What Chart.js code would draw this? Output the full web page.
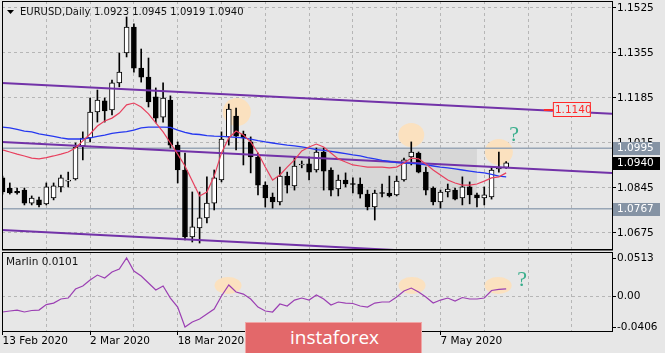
<!DOCTYPE html>
<html>
<head>
<meta charset="utf-8">
<title>EURUSD Daily</title>
<script src="https://cdn.jsdelivr.net/npm/chart.js@4.4.1/dist/chart.umd.min.js"></script>
<style>
  html, body { margin: 0; padding: 0; background: #e7e7e7; }
  #wrap { position: relative; width: 665px; height: 353px; overflow: hidden; background: #e7e7e7; }
  canvas { position: absolute; left: 0; }
  #main { top: 0; }
  #sub { top: 251px; }
  #logo { position: absolute; left: 245px; top: 322px; width: 177px; height: 32px; box-sizing: border-box;
          background: #e3686a; border: 1px solid #f0a6a6; color: #fff; font: 19px 'Open Sans', sans-serif;
          line-height: 28px; padding-left: 44px; }
</style>
</head>
<body>
<div id="wrap">
  <canvas id="main" width="665" height="251"></canvas>
  <canvas id="sub" width="665" height="102"></canvas>
  <div id="logo">instaforex</div>
</div>
<script>
// daily bars 13 Feb 2020 .. 20 May 2020, array index = bar number
const opens = [1.0883,1.0845,1.0832,1.0837,1.0788,1.0800,1.0785,1.0807,1.0849,1.0871,
  1.0879,1.1004,1.1034,1.1132,1.1174,1.1140,1.1242,1.1355,1.1453,1.1298,
  1.1264,1.1189,1.1113,1.1177,1.1007,1.0913,1.0660,1.0694,1.0732,1.0788,
  1.0875,1.1038,1.1117,1.1049,1.1019,1.0962,1.0856,1.0811,1.0792,1.0890,
  1.0853,1.0932,1.0936,1.0913,1.0981,1.0913,1.0841,1.0875,1.0860,1.0860,
  1.0822,1.0773,1.0826,1.0826,1.0819,1.0875,1.0962,1.0977,1.0905,1.0845,
  1.0792,1.0830,1.0837,1.0807,1.0849,1.0819,1.0807,1.0811,1.0917,1.0923];
const highs = [1.0890,1.0864,1.0845,1.0845,1.0815,1.0811,1.0864,1.0864,1.0894,1.0905,
  1.1015,1.1057,1.1185,1.1215,1.1185,1.1253,1.1355,1.1491,1.1465,1.1370,
  1.1336,1.1223,1.1242,1.1193,1.1019,1.0977,1.0830,1.0830,1.0887,1.0913,
  1.1057,1.1162,1.1147,1.1060,1.1038,1.0977,1.0868,1.0826,1.0924,1.0905,
  1.0962,1.0947,1.0962,1.0996,1.0996,1.0921,1.0894,1.0902,1.0883,1.0883,
  1.0837,1.0837,1.0860,1.0890,1.0890,1.0958,1.1019,1.0981,1.0924,1.0849,
  1.0837,1.0860,1.0845,1.0887,1.0868,1.0826,1.0849,1.0921,1.0981,1.0945];
const lows = [1.0822,1.0822,1.0822,1.0781,1.0781,1.0773,1.0781,1.0800,1.0830,1.0849,
  1.0875,1.0951,1.1019,1.1094,1.1094,1.1121,1.1227,1.1340,1.1283,1.1245,
  1.1151,1.1091,1.1094,1.0996,1.0864,1.0649,1.0641,1.0637,1.0713,1.0762,
  1.0868,1.1007,1.0989,1.0932,1.0902,1.0819,1.0773,1.0769,1.0781,1.0826,
  1.0837,1.0921,1.0875,1.0905,1.0837,1.0815,1.0815,1.0849,1.0826,1.0807,
  1.0762,1.0724,1.0811,1.0811,1.0815,1.0871,1.0932,1.0902,1.0819,1.0781,
  1.0769,1.0811,1.0800,1.0781,1.0785,1.0773,1.0781,1.0803,1.0905,1.0919];
const closes = [1.0830,1.0826,1.0826,1.0788,1.0807,1.0781,1.0849,1.0853,1.0883,1.0875,
  1.1000,1.1034,1.1132,1.1177,1.1136,1.1242,1.1283,1.1453,1.1298,1.1264,
  1.1170,1.1109,1.1185,1.1007,1.0913,1.0660,1.0698,1.0732,1.0788,1.0883,
  1.1030,1.1143,1.1041,1.1034,1.0962,1.0856,1.0807,1.0792,1.0890,1.0856,
  1.0928,1.0934,1.0905,1.0981,1.0909,1.0837,1.0875,1.0860,1.0858,1.0822,
  1.0773,1.0826,1.0824,1.0815,1.0871,1.0951,1.0981,1.0905,1.0837,1.0792,
  1.0830,1.0841,1.0803,1.0849,1.0819,1.0807,1.0819,1.0913,1.0924,1.0940];

// moving averages (red = fast, blue = slow)
const maFast = [1.0989,1.0981,1.0973,1.0966,1.0958,1.0955,1.0960,1.0966,1.0973,1.0981,
  1.0996,1.1023,1.1049,1.1079,1.1098,1.1109,1.1128,1.1159,1.1166,1.1151,
  1.1125,1.1091,1.1057,1.1015,1.0973,1.0928,1.0871,1.0815,1.0830,1.0890,
  1.0977,1.1034,1.1060,1.1045,1.1019,1.0977,1.0924,1.0875,1.0894,1.0924,
  1.0951,1.0985,1.1000,1.1011,1.1000,1.0977,1.0955,1.0943,1.0932,1.0928,
  1.0924,1.0924,1.0924,1.0921,1.0924,1.0939,1.0958,1.0955,1.0936,1.0913,
  1.0894,1.0875,1.0864,1.0856,1.0856,1.0860,1.0871,1.0883,1.0887,1.0902];
const maSlow = [1.1075,1.1072,1.1066,1.1060,1.1057,1.1049,1.1045,1.1040,1.1034,1.1030,
  1.1030,1.1030,1.1034,1.1040,1.1045,1.1051,1.1055,1.1058,1.1064,1.1072,
  1.1075,1.1075,1.1075,1.1074,1.1064,1.1055,1.1049,1.1047,1.1043,1.1041,
  1.1040,1.1038,1.1036,1.1034,1.1030,1.1024,1.1019,1.1015,1.1011,1.1007,
  1.1004,1.1000,1.0996,1.0990,1.0987,1.0983,1.0979,1.0975,1.0970,1.0966,
  1.0960,1.0955,1.0949,1.0945,1.0941,1.0939,1.0938,1.0936,1.0932,1.0928,
  1.0924,1.0921,1.0917,1.0913,1.0909,1.0905,1.0902,1.0896,1.0890,1.0887];

// Marlin oscillator
const marlin = [-0.0206,-0.0193,-0.0180,-0.0206,-0.0186,-0.0180,-0.0107,-0.0087,-0.0033,-0.0020,
  0.0100,0.0140,0.0220,0.0286,0.0246,0.0326,0.0366,0.0513,0.0340,0.0273,
  0.0180,0.0087,0.0140,-0.0020,-0.0140,-0.0406,-0.0340,-0.0300,-0.0233,-0.0166,
  0.0007,0.0153,0.0060,0.0033,-0.0033,-0.0140,-0.0193,-0.0206,-0.0100,-0.0126,
  -0.0047,-0.0020,-0.0047,0.0020,-0.0033,-0.0113,-0.0073,-0.0087,-0.0093,-0.0126,
  -0.0140,-0.0087,-0.0073,-0.0073,-0.0007,0.0073,0.0113,0.0060,-0.0007,-0.0087,
  -0.0047,-0.0020,-0.0060,-0.0013,-0.0033,-0.0033,-0.0020,0.0080,0.0095,0.0101];

const priceTicks = [1.0675, 1.0845, 1.1015, 1.1185, 1.1355, 1.1525];
const marlinTicks = [-0.0406, 0, 0.0513];
const gridBars = [6, 12, 18, 24, 30, 36, 42, 48, 54, 60, 66, 72, 78];
const labelBars = [0, 12, 24, 36, 48, 60];
const dateLabels = ['13 Feb 2020', '2 Mar 2020', '18 Mar 2020', '3 Apr 2020', '21 Apr 2020', '7 May 2020'];

// drawn objects: channel, levels, tags
const lineEnds = [-0.07, 83.5];
const channelUpper = [1.1242, 1.1125];
const channelMiddle = [1.1019, 1.0902];
const channelLower = [1.0686, 1.0569];
const levels = [1.0995, 1.0767];
const lastPrice = 1.0940;
const trendTag = 1.1140;
const zoneBars = [36.2, 65.0];

const xMin = -0.07, xMax = 83.5;
const yMin = 1.06145, yMax = 1.15514;
const mMin = -0.0459, mMax = 0.0593;

const idx = opens.map((_, i) => i);
const bodies = idx.map(i => ({x: i, y: [opens[i], closes[i]]}));
const wicks = idx.map(i => ({x: i, y: [lows[i], highs[i]]}));
const bodyFill = idx.map(i => closes[i] >= opens[i] ? '#ffffff' : '#000000');
const seg = ys => lineEnds.map((x, k) => ({x: x, y: ys[k]}));
const series = arr => idx.map(i => ({x: i, y: arr[i]}));

const font = {family: 'DejaVu Sans', size: 10.5};
const gridColor = '#b6b6b6';
const highlight = '#fbe1bf';
const hintColor = '#3aae8c';

function ellipse(ctx, x, y, rx, ry) {
  ctx.beginPath();
  ctx.ellipse(x, y, rx, ry, 0, 0, Math.PI * 2);
  ctx.fill();
}

// keep the plot area exactly where the panel sits: no label overhang padding
const noPad = s => { s.paddingTop = 0; s.paddingBottom = 0; s.paddingLeft = 0; s.paddingRight = 0; };

const mainDecor = {
  id: 'mainDecor',
  beforeDraw(chart) {
    const {ctx, scales: {x, y}} = chart;
    ctx.save();
    ctx.fillStyle = '#d7d7d7';
    const x1 = x.getPixelForValue(zoneBars[0]), x2 = x.getPixelForValue(zoneBars[1]);
    const y1 = y.getPixelForValue(levels[0]), y2 = y.getPixelForValue(levels[1]);
    ctx.fillRect(x1, y1, x2 - x1, y2 - y1);
    ctx.restore();
  },
  beforeDatasetsDraw(chart) {
    const {ctx, scales: {x, y}} = chart;
    ctx.save();
    ctx.fillStyle = highlight;
    ellipse(ctx, x.getPixelForValue(32.1), y.getPixelForValue(1.1132), 14, 14);
    ellipse(ctx, x.getPixelForValue(56.0), y.getPixelForValue(1.1045), 13, 12);
    ellipse(ctx, x.getPixelForValue(68.0), y.getPixelForValue(1.0981), 14, 13);
    ctx.restore();
  },
  afterDraw(chart) {
    const {ctx, chartArea: a, scales: {x, y}} = chart;
    ctx.save();
    // frame
    ctx.strokeStyle = '#000';
    ctx.lineWidth = 1;
    ctx.strokeRect(a.left + 0.5, a.top + 0.5, a.right - a.left, a.bottom - a.top);
    ctx.fillStyle = '#707070';
    ctx.fillRect(a.left, a.bottom + 1, a.right - a.left + 1, 2);

    // price tags on the axis
    ctx.font = '10.5px "DejaVu Sans"';
    ctx.textBaseline = 'middle';
    const tag = (v, bg) => {
      const py = Math.round(y.getPixelForValue(v));
      ctx.fillStyle = bg;
      ctx.fillRect(a.right + 1, py - 6, 47, 13);
      ctx.fillStyle = '#fff';
      ctx.fillText(v.toFixed(4), a.right + 5, py + 0.5);
    };
    tag(levels[0], '#8593a4');
    tag(levels[1], '#8593a4');
    tag(lastPrice, '#000');

    // trendline price tag
    const tx = x.getPixelForValue(75.4), ty = Math.round(y.getPixelForValue(1.1145));
    ctx.fillStyle = '#e7e7e7';
    ctx.fillRect(tx, ty - 7, 38, 15);
    ctx.strokeStyle = '#ff2a2a';
    ctx.strokeRect(tx + 0.5, ty - 6.5, 37, 14);
    ctx.fillStyle = '#ff2a2a';
    ctx.fillRect(tx - 9, ty, 9, 2);
    ctx.fillText(trendTag.toFixed(4), tx + 2, ty + 1);

    // question mark
    ctx.fillStyle = hintColor;
    ctx.font = '22px "Liberation Serif"';
    ctx.textAlign = 'center';
    ctx.fillText('?', x.getPixelForValue(70.1), y.getPixelForValue(1.1045));

    // title
    ctx.textAlign = 'left';
    ctx.fillStyle = '#000';
    ctx.beginPath();
    ctx.moveTo(7, 10); ctx.lineTo(14, 10); ctx.lineTo(10.5, 14); ctx.closePath(); ctx.fill();
    ctx.font = '10px "DejaVu Sans"';
    ctx.fillStyle = '#111';
    ctx.fillText('EURUSD,Daily', 20, 12);
    ctx.fillText([opens[69], highs[69], lows[69], closes[69]].map(v => v.toFixed(4)).join(' '), 94, 12);
    ctx.restore();
  }
};

const subDecor = {
  id: 'subDecor',
  beforeDatasetsDraw(chart) {
    const {ctx, scales: {x, y}} = chart;
    ctx.save();
    ctx.fillStyle = highlight;
    ellipse(ctx, x.getPixelForValue(30.9), y.getPixelForValue(0.0146), 13.5, 8.5);
    ellipse(ctx, x.getPixelForValue(56.1), y.getPixelForValue(0.0146), 13.5, 8.5);
    ellipse(ctx, x.getPixelForValue(67.9), y.getPixelForValue(0.0146), 13.5, 8.5);
    ctx.restore();
  },
  afterDraw(chart) {
    const {ctx, chartArea: a, scales: {x, y}} = chart;
    ctx.save();
    ctx.strokeStyle = '#000';
    ctx.lineWidth = 1;
    ctx.strokeRect(a.left + 0.5, a.top + 0.5, a.right - a.left, a.bottom - a.top);
    ctx.fillStyle = '#111';
    ctx.font = '10.5px "DejaVu Sans"';
    ctx.textBaseline = 'middle';
    ctx.fillText('Marlin ' + marlin[marlin.length - 1].toFixed(4), 6, 11);
    ctx.fillStyle = hintColor;
    ctx.font = '22px "Liberation Serif"';
    ctx.textAlign = 'center';
    ctx.fillText('?', x.getPixelForValue(71.2), y.getPixelForValue(0.022));
    ctx.restore();
  }
};

const lineStyle = (color, width, order) => ({type: 'line', borderColor: color, borderWidth: width,
  pointRadius: 0, fill: false, order: order});

new Chart(document.getElementById('main'), {
  type: 'bar',
  data: {
    datasets: [
      Object.assign(lineStyle('#98a6b6', 1.5, 5), {data: seg([levels[0], levels[0]])}),
      Object.assign(lineStyle('#98a6b6', 1.5, 5), {data: seg([levels[1], levels[1]])}),
      {data: wicks, backgroundColor: '#000', barThickness: 1, grouped: false, order: 2},
      {data: bodies, backgroundColor: bodyFill, borderColor: '#000', borderWidth: 1,
       borderSkipped: false, barThickness: 5, minBarLength: 1, grouped: false, order: 1},
      Object.assign(lineStyle('#7232a8', 2, -1), {data: seg(channelUpper)}),
      Object.assign(lineStyle('#7232a8', 2, -1), {data: seg(channelMiddle)}),
      Object.assign(lineStyle('#7232a8', 2, -1), {data: seg(channelLower)}),
      Object.assign(lineStyle('#2638f0', 1.3, -2), {data: series(maSlow)}),
      Object.assign(lineStyle('#e8405e', 1.2, -3), {data: series(maFast)})
    ]
  },
  options: {
    responsive: false,
    animation: false,
    devicePixelRatio: 1,
    layout: {padding: {left: 2, top: 1, right: 0, bottom: 2}},
    plugins: {legend: {display: false}, tooltip: {enabled: false}},
    scales: {
      x: {
        type: 'linear', min: xMin, max: xMax, offset: false,
        afterBuildTicks: s => { s.ticks = gridBars.map(v => ({value: v})); },
        afterFit: s => { s.height = 0; noPad(s); },
        ticks: {display: false},
        grid: {color: gridColor, drawTicks: false, offset: false},
        border: {display: false, dash: [3, 3]}
      },
      y: {
        type: 'linear', position: 'right', min: yMin, max: yMax,
        afterBuildTicks: s => { s.ticks = priceTicks.map(v => ({value: v})); },
        afterFit: s => { s.width = 53; noPad(s); },
        ticks: {font: font, color: '#000', padding: 1, callback: v => v.toFixed(4)},
        grid: {color: gridColor, tickColor: '#000', tickLength: 4},
        border: {display: false, dash: [3, 3]}
      }
    }
  },
  plugins: [mainDecor]
});

new Chart(document.getElementById('sub'), {
  type: 'line',
  data: {
    datasets: [
      Object.assign(lineStyle('#9b3fb3', 1.2, 0), {data: series(marlin)})
    ]
  },
  options: {
    responsive: false,
    animation: false,
    devicePixelRatio: 1,
    layout: {padding: {left: 2, top: 1, right: 0, bottom: 0}},
    plugins: {legend: {display: false}, tooltip: {enabled: false}},
    scales: {
      x: {
        type: 'linear', min: xMin, max: xMax, offset: false,
        afterBuildTicks: s => { s.ticks = [0].concat(gridBars).map(v => ({value: v})); },
        afterFit: s => { s.height = 22; noPad(s); },
        ticks: {font: font, color: '#000', align: 'start', maxRotation: 0, autoSkip: false, padding: 0,
          callback: v => { const k = labelBars.indexOf(v); return k < 0 ? '' : dateLabels[k]; }},
        grid: {
          color: c => (c.tick && c.tick.value === 0) ? 'transparent' : gridColor,
          tickColor: c => (c.tick && labelBars.includes(c.tick.value)) ? '#000' : 'transparent',
          tickLength: 4, offset: false
        },
        border: {display: false, dash: [3, 3]}
      },
      y: {
        type: 'linear', position: 'right', min: mMin, max: mMax,
        afterBuildTicks: s => { s.ticks = marlinTicks.map(v => ({value: v})); },
        afterFit: s => { s.width = 53; noPad(s); },
        ticks: {font: font, color: '#000', padding: 1, callback: v => v === 0 ? '0.00' : v.toFixed(4)},
        grid: {color: c => (c.tick && c.tick.value === 0) ? gridColor : 'transparent', tickColor: '#000', tickLength: 4},
        border: {display: false, dash: [3, 3]}
      }
    }
  },
  plugins: [subDecor]
});
</script>
</body>
</html>
